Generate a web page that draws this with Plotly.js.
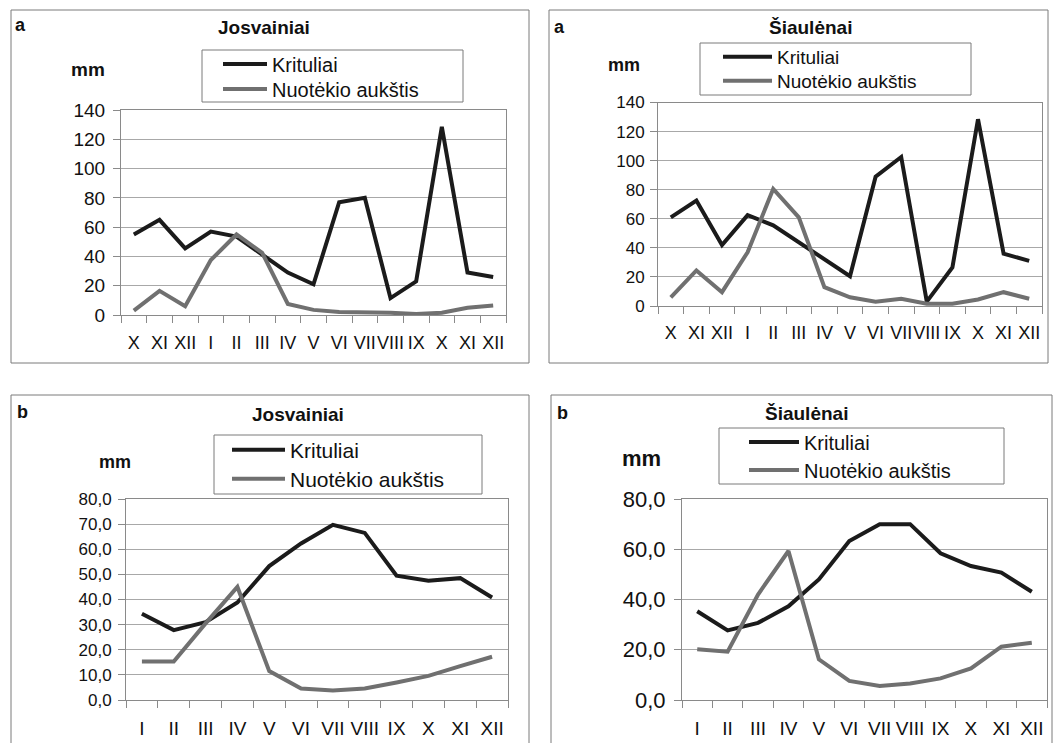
<!DOCTYPE html>
<html>
<head>
<meta charset="utf-8">
<script src="https://cdn.plot.ly/plotly-3.0.1.min.js"></script>
<style>html,body{margin:0;padding:0;background:#fff;}#chart{width:1058px;height:743px;}</style>
</head>
<body>
<div id="chart"></div>
<script>
// ---- data ----
const monthsA = ['X','XI','XII','I','II','III','IV','V','VI','VII','VIII','IX','X','XI','XII'];
const monthsB = ['I','II','III','IV','V','VI','VII','VIII','IX','X','XI','XII'];
const josA_krit = [55, 65, 45.5, 57, 53.5, 41, 29, 21, 77, 80, 11.5, 23, 128.5, 29, 26];
const josA_nuot = [3, 16.5, 6, 37.5, 55, 42.5, 7.5, 3.5, 2, 2, 1.5, 0.7, 1.5, 5, 6.5];
const siaA_krit = [61, 72.5, 42, 62.5, 55.5, 44, 32.5, 20.5, 89, 102.5, 3, 26.5, 128.5, 36, 31];
const siaA_nuot = [6, 24.5, 9.5, 37, 80.5, 61, 13, 6, 3, 5, 1.5, 1.5, 4.5, 9.5, 5];
const josB_krit = [34.3, 27.8, 31, 38.8, 53.3, 62.3, 69.7, 66.5, 49.5, 47.5, 48.5, 40.8];
const josB_nuot = [15.3, 15.3, 30.5, 45, 11.5, 4.6, 3.8, 4.6, 7, 9.6, 13.5, 17.2];
const siaB_krit = [35.3, 27.7, 30.7, 37.3, 48, 63.3, 70, 70, 58.4, 53.3, 50.7, 43.1];
const siaB_nuot = [20.2, 19.2, 42, 59.3, 16.2, 7.6, 5.6, 6.6, 8.6, 12.6, 21.2, 22.8];
const seriesNames = ['Krituliai', 'Nuotėkio aukštis'];
const titles = ['Josvainiai', 'Šiaulėnai', 'Josvainiai', 'Šiaulėnai'];
const panelLetters = ['a', 'a', 'b', 'b'];

// ---- layout helpers ----
const W = 1058, H = 743;
const FONT = 'Liberation Sans, Arial, sans-serif';
const px = x => x / W;
const py = y => 1 - y / H;
const C_K = '#1b1b1b', C_N = '#707070', GRID = '#a8a8a8', AX = '#8a8a8a';

const idx = arr => arr.map((_, i) => i);

const panels = [
  {months: monthsA, k: josA_krit, n: josA_nuot, plot: [121, 506, 110, 315], range: [0, 140], dtick: 20, fmt: 'd',
   yfs: 19, xfs: 18, ystand: 4, xstand: 11,
   leg: {x: 223, w: 44, y1: 64, y2: 89, fs: 20}, box: [202, 463, 50, 102],
   outer: [11, 529, 10, 363], letter: [20, 25], title: [264, 27, 19], mm: [88, 69, 19]},
  {months: monthsA, k: siaA_krit, n: siaA_nuot, plot: [658, 1042, 102.5, 306], range: [0, 140], dtick: 20, fmt: 'd',
   yfs: 17, xfs: 18, ystand: 2, xstand: 10,
   leg: {x: 723, w: 49, y1: 57, y2: 81, fs: 19}, box: [700, 971, 43, 95],
   outer: [549, 1048, 10, 363], letter: [559, 27], title: [810, 28, 19], mm: [624, 65, 18]},
  {months: monthsB, k: josB_krit, n: josB_nuot, plot: [126, 508, 499, 700], range: [0, 80], dtick: 10, fmt: '.1f',
   yfs: 17, xfs: 19, ystand: 3, xstand: 11,
   leg: {x: 232, w: 53, y1: 450, y2: 479, fs: 21}, box: [214, 482, 435, 494],
   outer: [11, 529, 395, 760], letter: [22, 412], title: [298, 414, 19], mm: [115, 462, 18]},
  {months: monthsB, k: siaB_krit, n: siaB_nuot, plot: [682, 1047, 499, 700], range: [0, 80], dtick: 20, fmt: '.1f',
   yfs: 22, xfs: 19, ystand: 4, xstand: 11,
   leg: {x: 749, w: 50, y1: 442, y2: 470, fs: 20}, box: [719, 1004, 428, 484],
   outer: [551, 1052, 395, 760], letter: [562, 413], title: [806, 413, 19], mm: [641, 458, 22]}
];

const data = [];
const layout = {
  width: W, height: H, autosize: false,
  margin: {l: 0, r: 0, t: 0, b: 0, pad: 0},
  paper_bgcolor: '#fff', plot_bgcolor: '#fff',
  separators: ',.',
  font: {family: FONT, color: '#111'},
  showlegend: true,
  shapes: [], annotations: []
};

panels.forEach((p, i) => {
  const n = i + 1;
  const xa = n === 1 ? 'x' : 'x' + n, ya = n === 1 ? 'y' : 'y' + n;
  const xk = n === 1 ? 'xaxis' : 'xaxis' + n, yk = n === 1 ? 'yaxis' : 'yaxis' + n;
  const l1 = 'legend' + (2 * i + 1 === 1 ? '' : (2 * i + 1));
  const l2 = 'legend' + (2 * i + 2);
  const xs = idx(p.months);
  data.push({x: xs, y: p.k, type: 'scatter', mode: 'lines', name: seriesNames[0],
    line: {color: C_K, width: 4}, xaxis: xa, yaxis: ya, legend: l1, hoverinfo: 'skip'});
  data.push({x: xs, y: p.n, type: 'scatter', mode: 'lines', name: seriesNames[1],
    line: {color: C_N, width: 4}, xaxis: xa, yaxis: ya, legend: l2, hoverinfo: 'skip'});

  const [x0, x1, y0, y1] = p.plot;
  layout[xk] = {
    domain: [px(x0), px(x1)], anchor: ya, type: 'linear',
    range: [-0.5, p.months.length - 0.5], fixedrange: true,
    tickmode: 'array', tickvals: xs, ticktext: p.months, tickangle: 0,
    ticks: '', ticklabelstandoff: p.xstand,
    tickfont: {family: FONT, size: p.xfs, color: '#111'},
    minor: {tick0: -0.5, dtick: 1, ticks: 'outside', ticklen: 7, tickwidth: 1, tickcolor: AX, showgrid: false},
    showgrid: false, zeroline: false,
    showline: true, linecolor: AX, linewidth: 1, mirror: true
  };
  layout[yk] = {
    domain: [py(y1), py(y0)], anchor: xa, range: p.range, fixedrange: true,
    tickmode: 'linear', tick0: 0, dtick: p.dtick, tickformat: p.fmt,
    ticks: 'outside', ticklen: 7, tickwidth: 1, tickcolor: AX, ticklabelstandoff: p.ystand,
    tickfont: {family: FONT, size: p.yfs, color: '#111'},
    showgrid: true, gridcolor: GRID, gridwidth: 1, zeroline: false,
    showline: true, linecolor: AX, linewidth: 1, mirror: true
  };

  const legBase = (yc) => ({
    x: px(p.leg.x - 5), y: py(yc), xanchor: 'left', yanchor: 'middle',
    bgcolor: 'rgba(0,0,0,0)', borderwidth: 0, itemwidth: p.leg.w,
    font: {family: FONT, size: p.leg.fs, color: '#111'}
  });
  layout[l1] = legBase(p.leg.y1);
  layout[l2] = legBase(p.leg.y2);

  const [bx0, bx1, by0, by1] = p.box;
  layout.shapes.push({type: 'rect', xref: 'paper', yref: 'paper', x0: px(bx0), x1: px(bx1), y0: py(by1), y1: py(by0),
    line: {color: '#7a7a7a', width: 1}, fillcolor: 'rgba(0,0,0,0)'});
  const [ox0, ox1, oy0, oy1] = p.outer;
  layout.shapes.push({type: 'rect', xref: 'paper', yref: 'paper', x0: px(ox0), x1: px(ox1), y0: py(oy1), y1: py(oy0),
    line: {color: '#7a7a7a', width: 1}, fillcolor: 'rgba(0,0,0,0)', layer: 'below'});

  layout.annotations.push({xref: 'paper', yref: 'paper', x: px(p.letter[0]), y: py(p.letter[1]), xanchor: 'center', yanchor: 'middle',
    text: '<b>' + panelLetters[i] + '</b>', showarrow: false, font: {family: FONT, size: 18, color: '#111'}});
  layout.annotations.push({xref: 'paper', yref: 'paper', x: px(p.title[0]), y: py(p.title[1]), xanchor: 'center', yanchor: 'middle',
    text: '<b>' + titles[i] + '</b>', showarrow: false, font: {family: FONT, size: p.title[2], color: '#111'}});
  layout.annotations.push({xref: 'paper', yref: 'paper', x: px(p.mm[0]), y: py(p.mm[1]), xanchor: 'center', yanchor: 'middle',
    text: '<b>mm</b>', showarrow: false, font: {family: FONT, size: p.mm[2], color: '#111'}});
});

Plotly.newPlot('chart', data, layout, {staticPlot: true, displayModeBar: false});
</script>
</body>
</html>
